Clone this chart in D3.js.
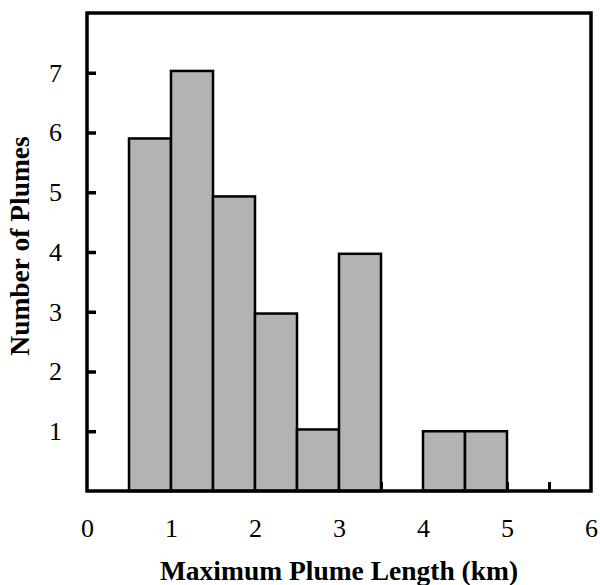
<!DOCTYPE html>
<html>
<head>
<meta charset="utf-8">
<script src="https://cdn.jsdelivr.net/npm/d3@7"></script>
<style>
  body { margin: 0; background: #fff; }
  svg text { font-family: "Liberation Serif", "Times New Roman", Times, serif; fill: #000; }
</style>
</head>
<body>
<div id="chart"></div>
<script>
// Histogram data: bin start (km), bin width 0.5 km
const binStarts = [0.5, 1.0, 1.5, 2.0, 2.5, 3.0, 4.0, 4.5];
const plumeCounts = [5.9, 7.03, 4.93, 2.97, 1.03, 3.97, 1.0, 1.0];
const binWidth = 0.5;

const xTickLabels = [0, 1, 2, 3, 4, 5, 6];
const xMinorTicks = [0.5, 1, 1.5, 2, 2.5, 3, 3.5, 4, 4.5, 5, 5.5];
const yTickLabels = [1, 2, 3, 4, 5, 6, 7];

const width = 600, height = 585;
const serif = "'Liberation Serif', 'Times New Roman', Times, serif";

const svg = d3.select("#chart").append("svg")
	.attr("width", width)
	.attr("height", height);

// Scales
const x = d3.scaleLinear().domain([0, 6]).range([87, 591]);
const y = d3.scaleLinear().domain([0, 8]).range([491, 13]);

// Small upward ticks along the bottom, every 0.5 km
svg.append("g")
	.attr("transform", `translate(0,${y(0)})`)
	.call(d3.axisBottom(x).tickValues(xMinorTicks).tickSize(-9).tickFormat(""))
	.call(g => g.select(".domain").remove())
	.call(g => g.selectAll(".tick line").attr("stroke", "#000").attr("stroke-width", 3));

// Bars
svg.append("g")
	.selectAll("rect")
	.data(binStarts)
	.join("rect")
	.attr("x", d => x(d))
	.attr("width", x(binWidth) - x(0))
	.attr("y", (d, i) => y(plumeCounts[i]))
	.attr("height", (d, i) => y(0) - y(plumeCounts[i]))
	.attr("fill", "#b3b3b3")
	.attr("stroke", "#000")
	.attr("stroke-width", 2.5);

// Frame
svg.append("rect")
	.attr("x", x(0)).attr("y", y(8))
	.attr("width", x(6) - x(0)).attr("height", y(0) - y(8))
	.attr("fill", "none")
	.attr("stroke", "#000")
	.attr("stroke-width", 3.5);

// Y axis: inward ticks
svg.append("g")
	.attr("transform", `translate(${x(0)},0)`)
	.call(d3.axisLeft(y).tickValues(yTickLabels).tickSize(-9).tickPadding(25))
	.attr("font-family", serif)
	.attr("font-size", 26)
	.call(g => g.select(".domain").remove())
	.call(g => g.selectAll(".tick line").attr("stroke", "#000").attr("stroke-width", 3.5))
	.call(g => g.selectAll(".tick text").attr("fill", "#000"));

// X axis labels
svg.append("g")
	.attr("transform", `translate(0,${y(0)})`)
	.call(d3.axisBottom(x).tickValues(xTickLabels).tickSize(0).tickPadding(28).tickFormat(d3.format("d")))
	.attr("font-family", serif)
	.attr("font-size", 26)
	.call(g => g.select(".domain").remove())
	.call(g => g.selectAll(".tick text").attr("fill", "#000"));

// Axis titles
svg.append("text")
	.attr("x", 339)
	.attr("y", 580)
	.attr("text-anchor", "middle")
	.attr("font-size", 27.5)
	.attr("font-weight", "bold")
	.text("Maximum Plume Length (km)");

svg.append("text")
	.attr("transform", "translate(29,246) rotate(-90)")
	.attr("text-anchor", "middle")
	.attr("font-size", 27.5)
	.attr("font-weight", "bold")
	.text("Number of Plumes");
</script>
</body>
</html>
